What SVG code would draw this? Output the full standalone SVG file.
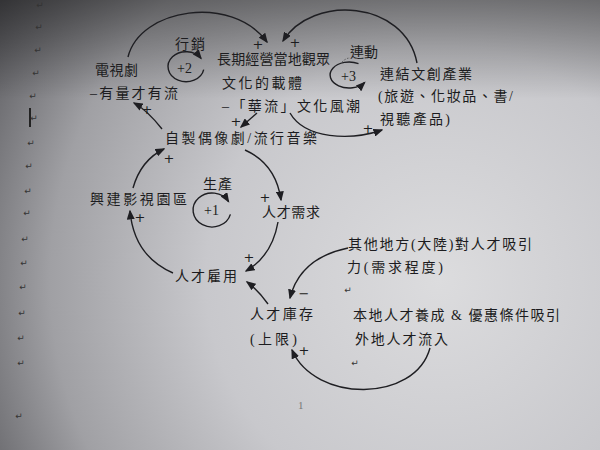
<svg xmlns="http://www.w3.org/2000/svg" width="600" height="450" viewBox="0 0 600 450">
<defs>
<radialGradient id="bg" gradientUnits="userSpaceOnUse" cx="440" cy="280" r="520">
<stop offset="0" stop-color="#dcdcde"/>
<stop offset="0.45" stop-color="#c8c8cc"/>
<stop offset="0.75" stop-color="#a0a0a4"/>
<stop offset="1" stop-color="#56565a"/>
</radialGradient>
<linearGradient id="topShade" x1="0" y1="0" x2="0" y2="1">
<stop offset="0" stop-color="#000" stop-opacity="0.4"/>
<stop offset="0.22" stop-color="#000" stop-opacity="0"/>
</linearGradient>
<marker id="ah" markerUnits="userSpaceOnUse" markerWidth="10" markerHeight="8" refX="8.5" refY="4" orient="auto">
<path d="M0,0 L10,4 L0,8 z" fill="#1e1e22"/>
</marker>
<style>
.t{font-family:"Liberation Serif","Noto Sans CJK TC",serif;font-size:14px;fill:#1c1c20}
.s{font-family:"DejaVu Sans",sans-serif;font-size:13px;fill:#1c1c20;text-anchor:middle;dominant-baseline:central}
.r{font-family:"DejaVu Sans",sans-serif;font-size:9px;fill:#333;text-anchor:middle;dominant-baseline:central}
.ca{fill:none;stroke:#1e1e22;stroke-width:1.4;marker-end:url(#ah)}
</style>
</defs>
<rect width="600" height="450" fill="url(#bg)"/>
<rect width="600" height="450" fill="url(#topShade)"/>

<g id="margin-marks">
<text class="r" x="40" y="5">↵</text>
<text class="r" x="39" y="27">↵</text>
<text class="r" x="38" y="50">↵</text>
<text class="r" x="36" y="73">↵</text>
<text class="r" x="33" y="96">↵</text>
<rect x="29" y="108" width="2" height="19" fill="#222"/>
<text class="r" x="34" y="118">↵</text>
<text class="r" x="31" y="143">↵</text>
<text class="r" x="29" y="166">↵</text>
<text class="r" x="28" y="191">↵</text>
<text class="r" x="27" y="213">↵</text>
<text class="r" x="25" y="239">↵</text>
<text class="r" x="24" y="263">↵</text>
<text class="r" x="23" y="287">↵</text>
<text class="r" x="22" y="313">↵</text>
<text class="r" x="21" y="338">↵</text>
<text class="r" x="21" y="363">↵</text>
<text class="r" x="19" y="416">↵</text>
<text class="r" x="348" y="290">↵</text>
<text class="r" x="355" y="363">↵</text>
</g>

<g id="connectors">
<path class="ca" d="M128,57 C140,8 232,-6 267,42"/>
<path class="ca" d="M417,63 C405,0 312,-6 283,41"/>
<path class="ca" d="M257,113 L241,127"/>
<path class="ca" d="M290,113 C305,139 350,141 382,130"/>
<path class="ca" d="M162,129 Q147,110 134,103"/>
<path class="ca" d="M245,150 Q276,164 281,200"/>
<path class="ca" d="M278,222 Q272,256 246,271"/>
<path class="ca" d="M173,273 Q134,256 130,211"/>
<path class="ca" d="M133,188 Q141,160 164,149"/>
<path class="ca" d="M268,304 Q258,290 247,282"/>
<path class="ca" d="M348,248 Q300,258 290,298"/>
<path class="ca" d="M430,348 C415,403 315,403 292,350"/>
<path class="ca" d="M203.7,69.6 A18,15 0 1 1 201,58.4"/>
<path class="ca" d="M358.5,63.7 A19,13 0 1 0 364.6,82.5"/>
<path class="ca" d="M230.4,214.4 A19,17 0 1 1 228.5,201.5"/>
<path d="M342,62 Q346,58 350,58" fill="none" stroke="#555" stroke-width="1" stroke-dasharray="1.5,1.5"/>
<text class="s" x="258" y="44">+</text>
<text class="s" x="295" y="42">+</text>
<text class="s" x="236" y="121">+</text>
<text class="s" x="368" y="128">+</text>
<text class="s" x="147" y="109">+</text>
<text class="s" x="265" y="197">+</text>
<text class="s" x="249" y="257">+</text>
<text class="s" x="140" y="217">+</text>
<text class="s" x="169" y="158">+</text>
<text class="s" x="304" y="293">−</text>
<text class="s" x="304" y="350">+</text>
</g>

<g id="loop-labels">
<text class="t" x="175" y="49" textLength="30">行銷</text>
<text class="t" x="177" y="73">+2</text>
<text class="t" x="350" y="57" textLength="28">連動</text>
<text class="t" x="341" y="81">+3</text>
<text class="t" x="203" y="189" textLength="29">生產</text>
<text class="t" x="204" y="215">+1</text>
</g>

<g id="node-tv">
<text class="t" x="95" y="75" textLength="43">電視劇</text>
<text class="t" x="90" y="98" textLength="88">–有量才有流</text>
</g>

<g id="node-longterm">
<text class="t" x="217" y="64" textLength="113">長期經營當地觀眾</text>
<text class="t" x="222" y="88" textLength="80">文化的載體</text>
<text class="t" x="222" y="111" textLength="138">–「華流」文化風潮</text>
</g>

<g id="node-creative">
<text class="t" x="380" y="79" textLength="92">連結文創產業</text>
<text class="t" x="378" y="101" textLength="135">(旅遊、化妝品、書/</text>
<text class="t" x="380" y="124" textLength="70">視聽產品)</text>
</g>

<g id="node-idol">
<text class="t" x="165" y="143" textLength="152">自製偶像劇/流行音樂</text>
</g>

<g id="node-park">
<text class="t" x="90" y="204" textLength="97">興建影視園區</text>
</g>

<g id="node-demand">
<text class="t" x="262" y="217" textLength="58">人才需求</text>
</g>

<g id="node-hire">
<text class="t" x="175" y="281" textLength="62">人才雇用</text>
</g>

<g id="node-other">
<text class="t" x="348" y="249" textLength="184">其他地方(大陸)對人才吸引</text>
<text class="t" x="347" y="272" textLength="96">力(需求程度)</text>
</g>

<g id="node-stock">
<text class="t" x="250" y="319" textLength="63">人才庫存</text>
<text class="t" x="250" y="344" textLength="47">(上限)</text>
</g>

<g id="node-local">
<text class="t" x="353" y="320" textLength="207">本地人才養成 &amp; 優惠條件吸引</text>
<text class="t" x="355" y="344" textLength="93">外地人才流入</text>
</g>

<g id="page-number">
<text x="298" y="409" font-family="Liberation Serif, serif" font-size="11" fill="#777">1</text>
</g>
</svg>
